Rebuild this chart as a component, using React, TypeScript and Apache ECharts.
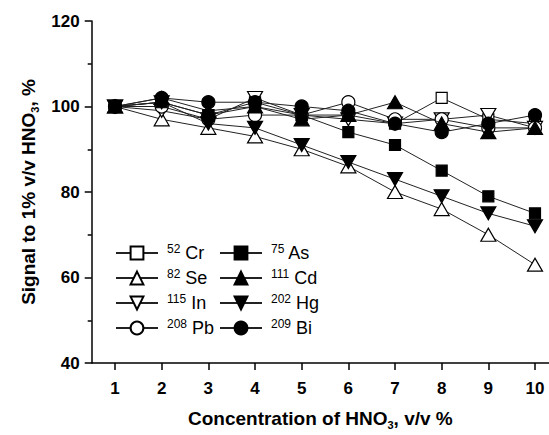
import React, { useEffect, useRef } from 'react';
import * as echarts from 'echarts';

const concentrations = [1, 2, 3, 4, 5, 6, 7, 8, 9, 10];
const yTicks = [40, 60, 80, 100, 120];

const elements = ['Cr', 'Se', 'In', 'Pb', 'As', 'Cd', 'Hg', 'Bi'];
const masses = [52, 82, 115, 208, 75, 111, 202, 209];

const cr = [100, 101, 98, 100, 98, 98, 96, 102, 97, 96];
const se = [100, 97, 95, 93, 90, 86, 80, 76, 70, 63];
const inn = [100, 99, 97, 102, 98, 97, 96, 97, 98, 95];
const pb = [100, 100, 97, 98, 98, 101, 97, 97, 95, 95];
const as = [100, 101, 98, 101, 98, 94, 91, 85, 79, 75];
const cd = [100, 102, 99, 100, 97, 98, 101, 96, 94, 95];
const hg = [100, 101, 96, 95, 91, 87, 83, 79, 75, 72];
const bi = [100, 102, 101, 101, 100, 99, 96, 94, 96, 98];

const seriesValues = [cr, se, inn, pb, as, cd, hg, bi];

const DOWN = 'path://M0,0L20,0L10,17Z';
const symbols: any[] = ['rect', 'triangle', DOWN, 'circle', 'rect', 'triangle', DOWN, 'circle'];
const sizes: any[] = [11, [15, 13], [15, 13], 13, 11, [15, 13], [15, 13], 13];
const filled = [false, false, false, false, true, true, true, true];

const FONT = '"Liberation Sans", Arial, sans-serif';

const titleRich = {
  a: { fontSize: 19, fontWeight: 'bold', fontFamily: FONT, color: '#000', lineHeight: 24 },
  s: { fontSize: 11, fontWeight: 'bold', fontFamily: FONT, color: '#000', lineHeight: 11, verticalAlign: 'bottom' },
};

export default function App() {
  const ref = useRef<HTMLDivElement>(null);
  useEffect(() => {
    if (!ref.current) return;
    const chart = echarts.init(ref.current, undefined, { renderer: 'svg' });
    const nameOf = (i: number) => `${masses[i]}${elements[i]}`;
    const legendFormatter = (name: string) => {
      const i = elements.findIndex((e, k) => nameOf(k) === name);
      return `{sup|${masses[i]}}{t| ${elements[i]}}`;
    };
    const legendBase = {
      orient: 'vertical',
      padding: 0,
      itemWidth: 42,
      itemHeight: 16,
      itemGap: 6,
      selectedMode: false,
      formatter: legendFormatter,
      textStyle: {
        fontSize: 18,
        color: '#000',
        fontFamily: FONT,
        padding: [0, 0, 0, 4],
        rich: {
          sup: { fontSize: 12, fontFamily: FONT, color: '#000', verticalAlign: 'top', lineHeight: 12 },
          t: { fontSize: 18, fontFamily: FONT, color: '#000', lineHeight: 20 },
        },
      },
    };
    const option: any = {
      animation: false,
      backgroundColor: '#fff',
      textStyle: { fontFamily: FONT },
      grid: { left: 91.7, right: 0, top: 21, bottom: 71, containLabel: false },
      legend: [
        { ...legendBase, left: 115, top: 243, data: [0, 1, 2, 3].map(nameOf) },
        { ...legendBase, left: 219, top: 243, data: [4, 5, 6, 7].map(nameOf) },
      ],
      xAxis: {
        type: 'value',
        min: 0.5,
        max: 10.3,
        name: '{a|Concentration of HNO}{s|3}{a|, v/v %}',
        nameLocation: 'middle',
        nameGap: 43,
        nameTextStyle: { rich: titleRich },
        axisLine: { lineStyle: { color: '#000', width: 1.5 } },
        axisTick: { length: 7, lineStyle: { color: '#000', width: 1.5 }, customValues: concentrations },
        axisLabel: {
          customValues: concentrations,
          fontSize: 17,
          fontWeight: 'bold',
          color: '#000',
          margin: 17,
          fontFamily: FONT,
        },
        splitLine: { show: false },
      },
      yAxis: {
        type: 'value',
        min: yTicks[0],
        max: yTicks[yTicks.length - 1],
        interval: 20,
        name: '{a|Signal to 1% v/v HNO}{s|3}{a|, %}',
        nameLocation: 'middle',
        nameGap: 49,
        nameTextStyle: { rich: titleRich },
        axisLine: { show: true, lineStyle: { color: '#000', width: 1.5 } },
        axisTick: { show: true, length: 7, lineStyle: { color: '#000', width: 1.5 } },
        minorTick: { show: true, splitNumber: 2, length: 4, lineStyle: { color: '#000', width: 1.5 } },
        axisLabel: { fontSize: 17, fontWeight: 'bold', color: '#000', margin: 12, fontFamily: FONT },
        splitLine: { show: false },
      },
      series: seriesValues.map((vals, i) => ({
        name: nameOf(i),
        type: 'line',
        data: vals.map((v, k) => [concentrations[k], v]),
        symbol: symbols[i],
        symbolSize: sizes[i],
        showAllSymbol: true,
        lineStyle: { color: '#222', width: 1 },
        itemStyle: {
          color: filled[i] ? '#000' : '#fff',
          borderColor: '#000',
          borderWidth: 1.2,
        },
        z: filled[i] ? 3 : 2,
      })),
    };
    chart.setOption(option);
    return () => chart.dispose();
  }, []);
  return <div ref={ref} style={{ position: 'fixed', left: 0, top: 0, width: 549, height: 435 }} />;
}
